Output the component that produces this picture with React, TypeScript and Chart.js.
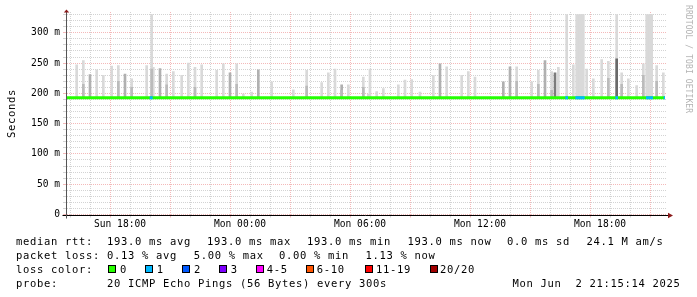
import React, { useEffect, useRef } from 'react';
import { Chart, registerables } from 'chart.js';

Chart.register(...registerables);

// ---------- data ----------
const xStart = 'Sun 15:21';
const xEnd = 'Mon 21:21';
const xLabels = ['Sun 18:00', 'Mon 00:00', 'Mon 06:00', 'Mon 12:00', 'Mon 18:00'];
const yTop = 334.4;
const yLabelValues = [0, 50, 100, 150, 200, 250, 300];
const yLabelTexts = ['0', '50 m', '100 m', '150 m', '200 m', '250 m', '300 m'];

const medianRtt = 193.0;
const medianFrom = 'Sun 15:21';
const medianTo = 'Mon 21:15';

const lossFrom = ['Sun 19:29', 'Mon 16:16', 'Mon 16:46', 'Mon 18:46', 'Mon 20:18', 'Mon 21:11'];
const lossTo = ['Sun 19:38', 'Mon 16:24', 'Mon 17:14', 'Mon 18:54', 'Mon 20:39', 'Mon 21:15'];
const lossLevel = [1, 1, 1, 1, 1, 1];

// smoke (ping spread above the median), per 5-minute step
const smokeTimes = [
  'Sun 15:50', 'Sun 16:10', 'Sun 16:30', 'Sun 16:50', 'Sun 17:10', 'Sun 17:35', 'Sun 17:55', 'Sun 18:15',
  'Sun 18:35', 'Sun 19:20', 'Sun 19:35', 'Sun 19:40', 'Sun 20:00', 'Sun 20:20', 'Sun 20:40', 'Sun 21:05',
  'Sun 21:25', 'Sun 21:45', 'Sun 22:05', 'Sun 22:50', 'Sun 23:10', 'Sun 23:30', 'Sun 23:50',
  'Mon 00:10', 'Mon 00:35', 'Mon 00:55', 'Mon 01:35', 'Mon 02:40', 'Mon 03:20', 'Mon 04:05', 'Mon 04:25',
  'Mon 04:45', 'Mon 05:05', 'Mon 05:25', 'Mon 06:10', 'Mon 06:25', 'Mon 06:30', 'Mon 06:50', 'Mon 07:10',
  'Mon 07:55', 'Mon 08:15', 'Mon 08:35', 'Mon 09:00', 'Mon 09:40', 'Mon 10:00', 'Mon 10:20', 'Mon 11:05',
  'Mon 11:25', 'Mon 11:45', 'Mon 13:10', 'Mon 13:30', 'Mon 13:50', 'Mon 14:35', 'Mon 14:55', 'Mon 15:15',
  'Mon 15:35', 'Mon 15:45', 'Mon 15:55', 'Mon 16:20', 'Mon 16:40', 'Mon 16:50', 'Mon 16:55', 'Mon 17:00',
  'Mon 17:05', 'Mon 17:10', 'Mon 17:20', 'Mon 17:40', 'Mon 18:05', 'Mon 18:25', 'Mon 18:50', 'Mon 19:05',
  'Mon 19:25', 'Mon 19:50', 'Mon 20:10', 'Mon 20:20', 'Mon 20:25', 'Mon 20:30', 'Mon 20:35', 'Mon 20:50',
  'Mon 21:10',
];
const smokeMax = [
  247, 254, 231, 239, 230, 245, 246, 232,
  224, 246, 330, 243, 241, 232, 236, 230,
  250, 243, 247, 238, 249, 234, 249,
  199, 202, 239, 219, 206, 238, 218, 234,
  240, 214, 214, 227, 199, 240, 203, 208,
  214, 222, 223, 202, 230, 249, 244, 230,
  236, 227, 219, 244, 244, 219, 238, 254,
  236, 234, 243, 330, 247, 330, 330, 330,
  330, 330, 240, 224, 256, 253, 330, 234,
  224, 213, 249, 330, 330, 330, 330, 246,
  234,
];
// 0 light, 1 medium, 2 dark
const smokeShade = [
  0, 0, 1, 0, 0, 0, 0, 1,
  0, 0, 0, 0, 1, 0, 0, 0,
  0, 0, 0, 0, 0, 1, 0,
  0, 0, 1, 0, 0, 0, 0, 0,
  0, 1, 0, 0, 0, 0, 0, 0,
  0, 0, 0, 0, 0, 1, 0, 0,
  0, 0, 1, 1, 0, 0, 0, 1,
  0, 2, 0, 0, 0, 0, 0, 0,
  0, 0, 0, 0, 0, 0, 0, 0,
  0, 0, 0, 0, 0, 0, 0, 0,
  0,
];
// top of the denser core of the smoke (193 = none)
const smokeCore = [
  193, 215, 193, 193, 193, 193, 220, 193,
  210, 193, 240, 193, 193, 214, 193, 193,
  193, 210, 193, 193, 193, 193, 215,
  193, 193, 193, 193, 193, 212, 193, 193,
  193, 205, 193, 210, 193, 193, 193, 193,
  193, 193, 193, 193, 193, 193, 193, 193,
  193, 193, 193, 193, 220, 193, 215, 193,
  205, 193, 193, 193, 193, 193, 193, 193,
  193, 193, 193, 193, 193, 225, 257, 215,
  193, 193, 230, 193, 193, 193, 193, 220,
  193,
];
const smokeCoreShade = smokeTimes.map((t) => (t === 'Mon 18:50' ? 2 : 1));

// legend texts
const yTitle = 'Seconds';
const watermark = 'RRDTOOL / TOBI OETIKER';
const rttLabel = 'median rtt:';
const rttStats = ['193.0 ms avg', '193.0 ms max', '193.0 ms min', '193.0 ms now', '0.0 ms sd', '24.1 M am/s'];
const lossLabel = 'packet loss:';
const lossStats = ['0.13 % avg', '5.00 % max', '0.00 % min', '1.13 % now'];
const lossColorLabel = 'loss color:';
const lossColorNames = ['0', '1', '2', '3', '4-5', '6-10', '11-19', '20/20'];
const lossColors = ['#26ff00', '#00b8ff', '#0059ff', '#7e00ff', '#ff00ff', '#ff5500', '#ff0000', '#a10000'];
const probeLabel = 'probe:';
const probeText = '20 ICMP Echo Pings (56 Bytes) every 300s';
const stampText = 'Mon Jun  2 21:15:14 2025';

// ---------- layout (positions only) ----------
const rttX = [107, 207, 307, 407.4, 507, 586.4];
const lossX = [107, 193.7, 279, 365.4];
const boxX = [108, 145, 182, 219, 255.5, 305.5, 365, 430];
const boxLabelX = [120, 156.7, 194, 230.7, 266.7, 316.7, 376, 440];
const rowTop = [235.7, 249.9, 264.1, 278.3];

const shadeColors = ['#d9d9d9', '#b0b0b0', '#7c7c7c'];
const coreColors = ['#d9d9d9', '#bbbbbb', '#6a6a6a'];

const toMin = (s: string) => {
  const [d, hm] = s.split(' ');
  const [h, m] = hm.split(':').map(Number);
  return (d === 'Mon' ? 1440 : 0) + h * 60 + m;
};

const FONT = '"DejaVu Sans Mono", monospace';

export default function App() {
  const ref = useRef<HTMLCanvasElement>(null);

  useEffect(() => {
    const canvas = ref.current!;
    const xMin = toMin(xStart);
    const xMax = toMin(xEnd);
    const hourTicks: number[] = [];
    for (let t = Math.ceil(xMin / 60) * 60; t <= xMax; t += 60) hourTicks.push(t);
    const yTicks: number[] = [];
    for (let v = 0; v <= yTop; v += 10) yTicks.push(v);
    const labelMap = new Map<number, string>();
    xLabels.forEach((l) => labelMap.set(toMin(l), l));
    const yLabelMap = new Map<number, string>();
    yLabelValues.forEach((v, i) => yLabelMap.set(v, yLabelTexts[i]));

    const smokeData = smokeTimes.map((t, i) => ({ x: toMin(t), y: [medianRtt, smokeMax[i]] }));
    const coreIdx = smokeTimes.map((_, i) => i).filter((i) => smokeCore[i] > medianRtt);
    const coreData = coreIdx.map((i) => ({ x: toMin(smokeTimes[i]), y: [medianRtt, smokeCore[i]] }));

    const lossSets = lossFrom.map((f, i) => ({
      type: 'line' as const,
      data: [
        { x: toMin(f), y: medianRtt },
        { x: toMin(lossTo[i]), y: medianRtt },
      ],
      borderColor: lossColors[lossLevel[i]],
      borderWidth: 3,
      borderCapStyle: 'butt' as const,
      pointRadius: 0,
      order: 0,
    }));

    const red = 'rgba(225,70,70,0.38)';
    const gray = 'rgba(150,150,150,0.42)';

    const axesPlugin = {
      id: 'rrdAxes',
      beforeDraw(chart: any) {
        const c = chart.ctx;
        c.fillStyle = '#fff';
        c.fillRect(0, 0, chart.width, chart.height);
      },
      afterDraw(chart: any) {
        const c = chart.ctx;
        const a = chart.chartArea;
        const yb = Math.round(a.bottom) + 0.5;
        const xl = Math.round(a.left) - 0.5;
        c.save();
        c.lineWidth = 1;
        c.strokeStyle = '#000';
        c.beginPath();
        c.moveTo(xl - 4, yb);
        c.lineTo(a.right + 2, yb);
        c.stroke();
        c.strokeStyle = '#555';
        c.beginPath();
        c.moveTo(xl, yb + 3);
        c.lineTo(xl, a.top - 1);
        c.stroke();
        c.fillStyle = '#8b1a1a';
        c.beginPath();
        c.moveTo(xl - 2.7, a.top + 0.5);
        c.lineTo(xl + 2.7, a.top + 0.5);
        c.lineTo(xl, a.top - 2.5);
        c.closePath();
        c.fill();
        c.beginPath();
        c.moveTo(a.right + 1, yb - 2.7);
        c.lineTo(a.right + 1, yb + 2.7);
        c.lineTo(a.right + 6, yb);
        c.closePath();
        c.fill();
        c.restore();
      },
    };

    const chart = new Chart(canvas, {
      type: 'bar',
      data: {
        datasets: [
          {
            type: 'bar',
            data: smokeData as any,
            backgroundColor: smokeTimes.map((_, i) => shadeColors[smokeShade[i]]),
            barThickness: 2,
            grouped: false,
            borderWidth: 0,
            order: 3,
          },
          {
            type: 'bar',
            data: coreData as any,
            backgroundColor: coreIdx.map((i) => coreColors[smokeCoreShade[i]]),
            barThickness: 2,
            grouped: false,
            borderWidth: 0,
            order: 2,
          },
          {
            type: 'line',
            data: [
              { x: toMin(medianFrom), y: medianRtt },
              { x: toMin(medianTo), y: medianRtt },
            ],
            borderColor: lossColors[0],
            borderWidth: 3,
            borderCapStyle: 'butt',
            pointRadius: 0,
            order: 1,
          },
          ...lossSets,
        ] as any,
      },
      options: {
        responsive: false,
        animation: false,
        devicePixelRatio: 1,
        layout: { padding: { top: 12, right: 30, left: 0, bottom: 0 } },
        plugins: { legend: { display: false }, tooltip: { enabled: false } },
        scales: {
          x: {
            type: 'linear',
            min: xMin,
            max: xMax,
            offset: false,
            afterBuildTicks: (s: any) => {
              s.ticks = hourTicks.map((v) => ({ value: v }));
            },
            afterFit: (s: any) => {
              s.height = 82.5;
            },
            grid: {
              color: (ctx: any) => (ctx.tick && ctx.tick.value % 180 === 0 ? red : gray),
              tickLength: 3,
              drawTicks: true,
            },
            border: { display: false, dash: [1, 1] },
            ticks: {
              autoSkip: false,
              maxRotation: 0,
              padding: 1,
              color: '#000',
              font: { family: FONT, size: 9.6 },
              callback: (v: any) => labelMap.get(Number(v)) || '',
            },
          },
          y: {
            type: 'linear',
            min: 0,
            max: yTop,
            afterBuildTicks: (s: any) => {
              s.ticks = yTicks.map((v) => ({ value: v }));
            },
            afterFit: (s: any) => {
              s.width = 67;
            },
            grid: {
              color: (ctx: any) => (ctx.tick && ctx.tick.value % 50 === 0 ? red : gray),
              tickLength: 4,
              drawTicks: true,
            },
            border: { display: false, dash: [1, 1] },
            ticks: {
              autoSkip: false,
              padding: 3,
              color: '#000',
              font: { family: FONT, size: 9.6 },
              callback: (v: any) => yLabelMap.get(Number(v)) ?? '',
            },
          },
        },
      },
      plugins: [axesPlugin],
    } as any);
    return () => chart.destroy();
  }, []);

  const txt: React.CSSProperties = {
    position: 'absolute',
    fontFamily: FONT,
    fontSize: '10.5px',
    letterSpacing: '0.68px',
    lineHeight: '10.5px',
    whiteSpace: 'pre',
    color: '#000',
  };

  return (
    <div style={{ position: 'fixed', left: 0, top: 0, width: 697, height: 297, background: '#fff' }}>
      <canvas ref={ref} width={697} height={297} style={{ position: 'absolute', left: 0, top: 0 }} />
      <div
        style={{
          ...txt,
          left: 6,
          top: 137.5,
          transformOrigin: '0 0',
          transform: 'rotate(-90deg)',
        }}
      >
        {yTitle}
      </div>
      <div
        style={{
          ...txt,
          fontSize: '8px',
          letterSpacing: '0.1px',
          lineHeight: '8px',
          color: '#b4b4b4',
          left: 692,
          top: 5,
          transformOrigin: '0 0',
          transform: 'rotate(90deg)',
        }}
      >
        {watermark}
      </div>
      <div style={{ ...txt, left: 16, top: rowTop[0] }}>{rttLabel}</div>
      {rttStats.map((s, i) => (
        <div key={'r' + i} style={{ ...txt, left: rttX[i], top: rowTop[0] }}>
          {s}
        </div>
      ))}
      <div style={{ ...txt, left: 16, top: rowTop[1] }}>{lossLabel}</div>
      {lossStats.map((s, i) => (
        <div key={'l' + i} style={{ ...txt, left: lossX[i], top: rowTop[1] }}>
          {s}
        </div>
      ))}
      <div style={{ ...txt, left: 16, top: rowTop[2] }}>{lossColorLabel}</div>
      {lossColorNames.map((s, i) => (
        <React.Fragment key={'c' + i}>
          <div
            style={{
              position: 'absolute',
              left: boxX[i],
              top: 265,
              width: 6,
              height: 6,
              border: '1px solid #000',
              background: lossColors[i],
            }}
          />
          <div style={{ ...txt, left: boxLabelX[i], top: rowTop[2] }}>{s}</div>
        </React.Fragment>
      ))}
      <div style={{ ...txt, left: 16, top: rowTop[3] }}>{probeLabel}</div>
      <div style={{ ...txt, left: rttX[0], top: rowTop[3] }}>{probeText}</div>
      <div style={{ ...txt, left: 512.4, top: rowTop[3] }}>{stampText}</div>
    </div>
  );
}
